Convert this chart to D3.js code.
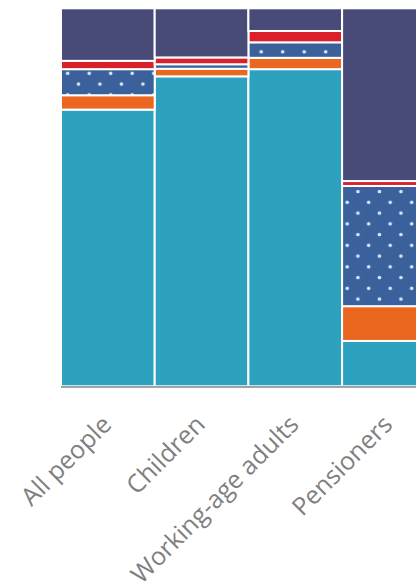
<!DOCTYPE html>
<html>
<head>
<meta charset="utf-8">
<script src="https://cdn.jsdelivr.net/npm/d3@7"></script>
<style>
    body { margin: 0; background: #ffffff; }
    svg { display: block; }
</style>
</head>
<body>
<svg id="svg1" width="416" height="584"></svg>
<script>
// categories (x axis)
var categories = ['All people', 'Children', 'Working-age adults', 'Pensioners'];

// series, bottom to top, share of each group (%)
var seriesNames = ['teal', 'orange', 'dotted', 'red', 'navy'];
var tealValues = [73.2, 82.0, 83.9, 12.0];
var orangeValues = [3.8, 2.0, 3.0, 9.2];
var dottedValues = [6.9, 1.2, 4.1, 31.8];
var redValues = [2.2, 1.8, 3.0, 1.3];
var navyValues = [13.9, 13.0, 6.0, 45.7];

var colors = {
    teal: '#2ca2be',
    orange: '#eb671f',
    dotted: 'url(#dots)',
    red: '#d9212c',
    navy: '#484b77'
};

var svg = d3.select('#svg1');

// dotted pattern for the blue series
var pattern = svg.append('defs').append('pattern')
    .attr('id', 'dots')
    .attr('patternUnits', 'userSpaceOnUse')
    .attr('x', -2.175)
    .attr('y', 3.425)
    .attr('width', 21.5)
    .attr('height', 21.5);
pattern.append('rect')
    .attr('width', 21.5)
    .attr('height', 21.5)
    .attr('fill', '#3a619c');
pattern.append('circle')
    .attr('cx', 5.375).attr('cy', 5.375).attr('r', 1.8)
    .attr('fill', '#dfe6f2');
pattern.append('circle')
    .attr('cx', 16.125).attr('cy', 16.125).attr('r', 1.8)
    .attr('fill', '#dfe6f2');

var rows = categories.map(function (c, i) {
    return {
        category: c,
        teal: tealValues[i],
        orange: orangeValues[i],
        dotted: dottedValues[i],
        red: redValues[i],
        navy: navyValues[i]
    };
});

var stacked = d3.stack()
    .keys(seriesNames)
    .offset(d3.stackOffsetExpand)(rows);

// plot runs past the right edge, last bar is cut off
var x = d3.scaleBand()
    .domain(categories)
    .range([61, 61 + 4 * 93.7])
    .padding(0);

var y = d3.scaleLinear()
    .domain([0, 1])
    .range([386.3, 8.3]);

svg.append('g')
    .selectAll('g')
    .data(stacked)
    .enter().append('g')
    .attr('fill', function (d) { return colors[d.key]; })
    .selectAll('rect')
    .data(function (d) { return d; })
    .enter().append('rect')
    .attr('x', function (d) { return x(d.data.category); })
    .attr('y', function (d) { return y(d[1]); })
    .attr('width', x.bandwidth())
    .attr('height', function (d) { return y(d[0]) - y(d[1]); })
    .attr('stroke', '#ffffff')
    .attr('stroke-width', 2);

// baseline
svg.append('line')
    .attr('x1', 61)
    .attr('x2', 416)
    .attr('y1', 387)
    .attr('y2', 387)
    .attr('stroke', '#a3a3a3')
    .attr('stroke-width', 2);

// rotated category labels
svg.append('g')
    .selectAll('text')
    .data(categories)
    .enter().append('text')
    .attr('transform', function (d) {
        return 'translate(' + (x(d) + x.bandwidth() / 2 + 5) + ',426) rotate(-45)';
    })
    .attr('text-anchor', 'end')
    .attr('font-family', 'Open Sans, sans-serif')
    .attr('font-size', 25)
    .attr('fill', '#7f7f7f')
    .text(function (d) { return d; });
</script>
</body>
</html>
